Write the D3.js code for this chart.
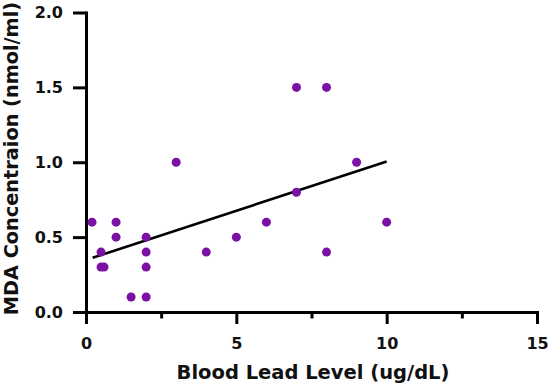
<!DOCTYPE html>
<html>
<head>
<meta charset="utf-8">
<script src="https://cdn.jsdelivr.net/npm/d3@7"></script>
<style>
  body { margin: 0; background: #fff; }
  text { font-family: "DejaVu Sans", sans-serif; font-weight: bold; fill: #111; }
</style>
</head>
<body>
<div id="chart"></div>
<script>
// blood lead (ug/dL) vs MDA (nmol/ml)
const leadLevel = [0.2, 0.5, 0.5, 0.6, 1, 1, 1.5, 2, 2, 2, 2, 3, 4, 5, 6, 7, 7, 8, 8, 9, 10];
const mdaConc   = [0.6, 0.4, 0.3, 0.3, 0.6, 0.5, 0.1, 0.5, 0.4, 0.3, 0.1, 1.0, 0.4, 0.5, 0.6, 0.8, 1.5, 1.5, 0.4, 1.0, 0.6];
// fitted line ends
const fitLead = [0.22, 10];
const fitMda  = [0.362, 1.005];
const xTicks = [0, 5, 10, 15];
const xMinorTicks = [2.5, 7.5, 12.5];
const yTicks = [0, 0.5, 1.0, 1.5, 2.0];

const width = 548, height = 385;
const margin = { top: 12.5, right: 11, bottom: 73, left: 86 };

const svg = d3.select("#chart").append("svg")
    .attr("width", width)
    .attr("height", height);

const x = d3.scaleLinear().domain([0, 15]).range([margin.left, width - margin.right]);
const y = d3.scaleLinear().domain([0, 2]).range([height - margin.bottom, margin.top]);

// minor ticks first, so the main axis draws over them
svg.append("g")
    .attr("transform", `translate(0,${y(0)})`)
    .call(d3.axisBottom(x).tickValues(xMinorTicks).tickSize(6.5).tickFormat(""))
    .call(g => g.select(".domain").remove())
    .call(g => g.selectAll("line").attr("stroke", "#000").attr("stroke-width", 3));

const xAxis = svg.append("g")
    .attr("transform", `translate(0,${y(0)})`)
    .call(d3.axisBottom(x).tickValues(xTicks).tickSizeInner(12).tickSizeOuter(0).tickPadding(14)
        .tickFormat(d3.format("d")));

const yAxis = svg.append("g")
    .attr("transform", `translate(${x(0)},0)`)
    .call(d3.axisLeft(y).tickValues(yTicks).tickSizeInner(13).tickSizeOuter(0).tickPadding(10)
        .tickFormat(d3.format(".1f")));

[xAxis, yAxis].forEach(g => {
    g.attr("font-family", null).attr("font-size", null);
    g.select(".domain").attr("stroke", "#000").attr("stroke-width", 3).attr("stroke-linecap", "square");
    g.selectAll("line").attr("stroke", "#000").attr("stroke-width", 3);
    g.selectAll("text").style("font-size", "16px").attr("fill", "#111");
});

svg.append("path")
    .datum(fitLead.map((v, i) => [v, fitMda[i]]))
    .attr("fill", "none")
    .attr("stroke", "#000")
    .attr("stroke-width", 2.6)
    .attr("d", d3.line().x(d => x(d[0])).y(d => y(d[1])));

svg.append("g")
    .selectAll("circle")
    .data(leadLevel.map((v, i) => ({ lead: v, mda: mdaConc[i] })))
    .enter().append("circle")
    .attr("cx", d => x(d.lead))
    .attr("cy", d => y(d.mda))
    .attr("r", 4.5)
    .attr("fill", "#7b10a4");

svg.append("text")
    .attr("x", 313)
    .attr("y", 378.5)
    .attr("text-anchor", "middle")
    .style("font-size", "19.5px")
    .text("Blood Lead Level (ug/dL)");

svg.append("text")
    .attr("transform", "translate(18,158.5) rotate(-90)")
    .attr("text-anchor", "middle")
    .style("font-size", "19.3px")
    .text("MDA Concentraion (nmol/ml)");
</script>
</body>
</html>
